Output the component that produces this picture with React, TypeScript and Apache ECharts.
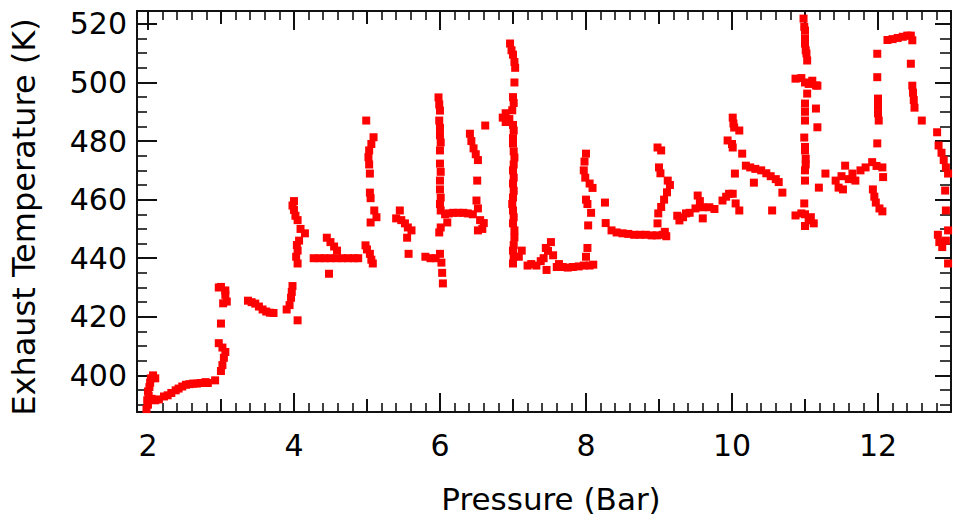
import React, { useEffect, useRef } from "react";
import * as echarts from "echarts";

// Axis ranges and titles
const pressureRange = [1.85, 13];
const temperatureRange = [387.5, 524.4];
const xTitle = "Pressure (Bar)";
const yTitle = "Exhaust Temperature (K)";

// Readings [pressure (bar), exhaust temperature (K)] grouped by pressure region
const near2 = [
  [1.98, 388.5], [2.0, 390], [1.99, 391.5], [2.01, 393], [2.0, 394.5], [2.02, 396], [2.03, 397.5], [2.04, 399],
  [2.07, 400], [2.1, 399], [2.05, 392], [2.1, 391.5], [2.15, 391.8], [2.22, 392.8], [2.27, 393.2], [2.32, 394],
  [2.38, 394.9], [2.42, 395.5], [2.47, 396.2], [2.52, 396.8], [2.57, 397], [2.62, 397.2], [2.67, 397.2],
  [2.72, 397.4], [2.79, 397.7], [2.82, 397.4],
];
const near3 = [
  [2.92, 398.3], [3.0, 401.5], [3.02, 403.5], [3.04, 406], [3.06, 408], [3.02, 409.5], [2.97, 411], [3.0, 417.7],
  [3.03, 424.6], [3.08, 425.2], [3.06, 427.5], [3.06, 429], [3.0, 430.2], [2.97, 430],
];
const near35 = [
  [3.37, 425.5], [3.42, 425], [3.47, 424.5], [3.52, 423.5], [3.57, 422.5], [3.62, 421.8], [3.67, 421.4], [3.72, 421.3],
];
const near4 = [
  [3.9, 422.5], [3.94, 424], [3.96, 426.5], [3.97, 428.5], [3.98, 430.5], [4.05, 418.8], [4.0, 459.5], [3.98, 458],
  [4.0, 456.5], [4.02, 454.5], [4.05, 453], [4.09, 450], [4.15, 448.5], [4.07, 446], [4.04, 444.5], [4.05, 442.6],
  [4.03, 440.5], [4.05, 438.2],
];
const near45 = [
  [4.27, 440], [4.35, 440], [4.42, 440], [4.5, 440], [4.58, 440], [4.66, 440], [4.74, 440], [4.82, 440], [4.88, 440],
  [4.45, 447], [4.5, 445.5], [4.55, 444], [4.59, 442.6], [4.48, 434.7],
];
const near5 = [
  [4.98, 444.4], [5.0, 443], [5.04, 441.5], [5.06, 439.5], [5.08, 438.2], [4.99, 487], [5.09, 481.3], [5.06, 479],
  [5.03, 476.8], [5.02, 474.5], [5.03, 472], [5.04, 468.9], [5.04, 462.4], [5.05, 460.5], [5.1, 456.3], [5.13, 454],
  [5.05, 452.2],
];
const near55 = [
  [5.45, 456.3], [5.4, 453.6], [5.47, 453], [5.52, 451.9], [5.56, 450.5], [5.61, 449.5], [5.55, 447], [5.57, 441.5],
];
const near6 = [
  [5.8, 440.5], [5.87, 440], [5.94, 440], [6.0, 441.5], [6.02, 438.5], [6.03, 435], [6.04, 431.4], [5.98, 494.9],
  [5.99, 492.5], [6.0, 490.4], [5.99, 487], [6.0, 484.5], [6.0, 482], [6.01, 479.5], [6.0, 476.8], [6.0, 472.3],
  [6.01, 469.5], [6.0, 466.5], [6.0, 463.5], [6.01, 460.7], [6.0, 458.5], [6.01, 456.3], [6.01, 450.5], [5.99, 448.8],
];
const near65 = [
  [6.07, 455], [6.12, 455.3], [6.18, 455.5], [6.25, 455.5], [6.32, 455.5], [6.38, 455.3], [6.45, 455], [6.1, 452.2],
  [6.5, 459.7], [6.52, 457], [6.55, 453], [6.6, 452], [6.58, 450], [6.52, 449.5], [6.41, 482.5], [6.43, 480],
  [6.46, 477.5], [6.49, 475.5], [6.52, 473.5], [6.51, 466.5], [6.62, 485.3],
];
const near7 = [
  [6.96, 513.3], [6.98, 511], [7.0, 509.5], [7.02, 507], [7.03, 505], [7.02, 500], [7.0, 495], [7.01, 493],
  [6.99, 490.5], [6.86, 488], [6.9, 489.5], [6.95, 487.5], [6.9, 486.5], [7.0, 485.5], [7.01, 483.6], [7.0, 481],
  [7.0, 479.2], [7.01, 476.5], [7.02, 474.4], [7.01, 472], [7.0, 470], [7.01, 467.5], [7.0, 465.5], [7.01, 463],
  [7.0, 460.7], [6.99, 458.5], [7.0, 456.3], [7.01, 454], [7.0, 451.9], [7.02, 449.5], [7.02, 447.1], [7.01, 444.5],
  [7.0, 442.6], [7.01, 440.5], [7.0, 438.2], [7.12, 442.6], [7.08, 440.5],
];
const near75 = [
  [7.2, 437.5], [7.25, 438], [7.32, 437.5], [7.38, 439], [7.42, 440], [7.45, 443.5], [7.48, 442.5], [7.52, 445.5],
  [7.55, 441], [7.6, 437], [7.46, 436], [7.63, 438],
];
const near8 = [
  [7.68, 437], [7.75, 436.8], [7.82, 437], [7.9, 437.2], [7.97, 437.5], [8.05, 437.5], [8.1, 437.8], [8.0, 440.5],
  [8.02, 443.5], [8.0, 475.7], [7.98, 473], [7.97, 470], [7.99, 467.5], [8.05, 465.5], [8.09, 464], [8.0, 460],
  [8.02, 458.5], [8.07, 455.5], [8.03, 451.2], [8.26, 459], [8.27, 452],
];
const near85 = [
  [8.35, 449.5], [8.42, 448.8], [8.5, 448.5], [8.58, 448.3], [8.66, 448], [8.74, 448], [8.82, 448], [8.9, 447.8],
  [8.97, 447.8], [9.05, 448], [9.1, 447.5],
];
const near9 = [
  [8.98, 477.8], [9.03, 476.8], [9.0, 471], [9.02, 469], [9.12, 466.5], [9.15, 465], [9.11, 462.5], [9.07, 460],
  [9.03, 457.5], [8.99, 455.3], [8.98, 451.9], [9.08, 449],
];
const near95 = [
  [9.25, 454.5], [9.28, 452.9], [9.33, 454], [9.37, 455.3], [9.42, 455.5], [9.5, 457], [9.53, 461.4], [9.56, 459.5],
  [9.6, 457.4], [9.69, 457.4], [9.76, 456.8], [9.6, 453.6],
];
const near10 = [
  [9.87, 459.7], [9.92, 461], [9.96, 462], [10.01, 462], [10.05, 458.7], [10.1, 456.3], [10.01, 488], [10.02, 486],
  [10.03, 484.6], [10.1, 483.6], [9.94, 480.2], [10.0, 479], [10.01, 477.8], [10.14, 475.7], [10.04, 468.9],
];
const near105 = [
  [10.19, 471.6], [10.25, 471], [10.32, 470.5], [10.4, 470], [10.47, 469], [10.53, 468], [10.6, 467], [10.64, 466],
  [10.3, 465.8], [10.69, 462.4], [10.55, 456.3],
];
const near11 = [
  [10.98, 521.8], [10.99, 519], [11.0, 517.7], [11.0, 515], [11.0, 513.3], [11.01, 511], [11.02, 509.9],
  [11.03, 507.5], [10.87, 501.3], [10.95, 501.5], [11.0, 500], [11.05, 499.5], [11.1, 500.6], [11.15, 499],
  [11.17, 498.9], [11.03, 496.2], [11.0, 492.8], [11.0, 490], [11.15, 491.1], [11.0, 487], [11.17, 484.7],
  [10.99, 481.2], [11.0, 478], [11.0, 476.8], [11.01, 474], [11.01, 472], [11.0, 470], [11.0, 466.5],
  [11.19, 464.1], [11.28, 468.9], [10.99, 458.7], [10.87, 454.6], [10.95, 455.3], [11.0, 455], [11.05, 452.9],
  [11.12, 451.9], [11.08, 454], [11.0, 451],
];
const near115 = [
  [11.42, 466.5], [11.46, 464.1], [11.5, 468], [11.55, 471.6], [11.6, 467], [11.65, 468.9], [11.69, 466.5],
  [11.52, 463.5], [11.76, 470], [11.83, 471], [11.92, 472.8], [11.98, 471.5], [12.06, 471], [12.07, 467.7],
];
const near12 = [
  [11.93, 463.5], [11.95, 461], [11.97, 459], [12.02, 457], [12.06, 456], [11.99, 509.8], [11.99, 501.8],
  [12.0, 494.5], [12.0, 492], [12.0, 489.5], [12.01, 487], [11.99, 479.2], [12.13, 514.5], [12.2, 514.8],
  [12.27, 515.2], [12.34, 515.6], [12.4, 516], [12.45, 516], [12.47, 514.4],
];
const near125 = [
  [12.45, 506.4], [12.47, 498.9], [12.48, 496.5], [12.49, 494], [12.5, 491.4], [12.6, 487], [12.81, 483],
  [12.83, 478.5], [12.87, 476], [12.9, 473.5], [12.93, 471], [12.96, 468.9], [12.92, 463.1], [12.93, 456.3],
  [12.82, 448], [12.84, 445.5], [12.88, 443.8], [12.93, 446], [12.96, 449.5], [12.96, 438.2],
];

const readings = [
  ...near2, ...near3, ...near35, ...near4, ...near45, ...near5, ...near55, ...near6, ...near65, ...near7,
  ...near75, ...near8, ...near85, ...near9, ...near95, ...near10, ...near105, ...near11, ...near115, ...near12,
  ...near125,
];

const FONT = "DejaVu Sans";
const AXIS_COLOR = "#111";

function buildOption() {
  const lineStyle = { color: AXIS_COLOR, width: 2 };
  const tickLine = { color: AXIS_COLOR, width: 2 };
  const minorLine = { color: AXIS_COLOR, width: 1.6 };
  const xBase = {
    type: "value",
    min: pressureRange[0],
    max: pressureRange[1],
    splitLine: { show: false },
    minorSplitLine: { show: false },
  };
  const yBase = {
    type: "value",
    min: temperatureRange[0],
    max: temperatureRange[1],
    splitNumber: 6,
    splitLine: { show: false },
    minorSplitLine: { show: false },
  };
  return {
    animation: false,
    backgroundColor: "#ffffff",
    grid: { left: 137, right: 2, top: 11, bottom: 111, containLabel: false },
    xAxis: [
      {
        ...xBase,
        position: "bottom",
        splitNumber: 5,
        axisLine: { show: true, onZero: false, lineStyle },
        axisTick: { show: true, inside: true, length: 19, lineStyle: tickLine },
        axisLabel: {
          show: true,
          showMinLabel: false,
          showMaxLabel: false,
          margin: 18,
          fontFamily: FONT,
          fontSize: 30,
          color: "#000",
        },
        name: xTitle,
        nameLocation: "middle",
        nameGap: 71,
        nameTextStyle: { fontFamily: FONT, fontSize: 31, color: "#000", padding: [0, 0, 0, 14] },
      },
      {
        ...xBase,
        position: "bottom",
        splitNumber: 11,
        axisLine: { show: false, onZero: false },
        axisTick: { show: true, inside: true, length: 13, lineStyle: tickLine },
        minorTick: { show: true, splitNumber: 5, length: 9, lineStyle: minorLine },
        axisLabel: { show: false },
      },
      {
        ...xBase,
        position: "top",
        splitNumber: 5,
        axisLine: { show: true, onZero: false, lineStyle },
        axisTick: { show: true, inside: true, length: 19, lineStyle: tickLine },
        axisLabel: { show: false },
      },
      {
        ...xBase,
        position: "top",
        splitNumber: 11,
        axisLine: { show: false, onZero: false },
        axisTick: { show: true, inside: true, length: 13, lineStyle: tickLine },
        minorTick: { show: true, splitNumber: 5, length: 9, lineStyle: minorLine },
        axisLabel: { show: false },
      },
    ],
    yAxis: [
      {
        ...yBase,
        position: "left",
        axisLine: { show: true, onZero: false, lineStyle },
        axisTick: { show: true, inside: true, length: 20, lineStyle: tickLine },
        minorTick: { show: true, splitNumber: 4, length: 10, lineStyle: minorLine },
        axisLabel: {
          show: true,
          showMinLabel: false,
          showMaxLabel: false,
          margin: 10,
          fontFamily: FONT,
          fontSize: 30,
          color: "#000",
        },
        name: yTitle,
        nameLocation: "middle",
        nameGap: 97,
        nameTextStyle: { fontFamily: FONT, fontSize: 32, color: "#000", padding: [0, 11, 0, 0] },
      },
      {
        ...yBase,
        position: "right",
        axisLine: { show: true, onZero: false, lineStyle },
        axisTick: { show: true, inside: true, length: 16, lineStyle: tickLine },
        minorTick: { show: true, splitNumber: 4, length: 11, lineStyle: minorLine },
        axisLabel: { show: false },
      },
    ],
    series: [
      {
        type: "scatter",
        xAxisIndex: 0,
        yAxisIndex: 0,
        symbol: "rect",
        symbolSize: 8,
        itemStyle: { color: "#ff0000", opacity: 1 },
        data: readings,
        z: 1,
      },
    ],
  };
}

export default function App() {
  const ref = useRef<HTMLDivElement>(null);
  useEffect(() => {
    if (!ref.current) return;
    const chart = echarts.init(ref.current, null, { renderer: "svg" });
    chart.setOption(buildOption() as any);
    return () => {
      chart.dispose();
    };
  }, []);
  return (
    <div
      ref={ref}
      style={{ position: "fixed", left: 0, top: 0, width: 953, height: 523, background: "#fff" }}
    />
  );
}
